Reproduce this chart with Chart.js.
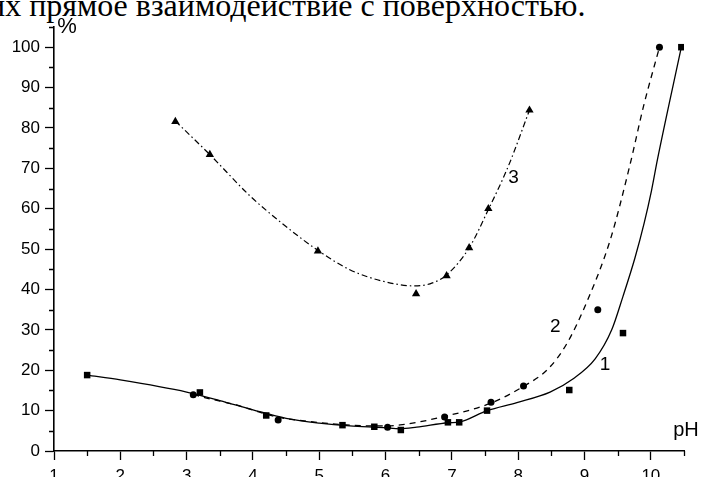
<!DOCTYPE html>
<html>
<head>
<meta charset="utf-8">
<script src="https://cdn.jsdelivr.net/npm/chart.js@4/dist/chart.umd.min.js"></script>
<style>
  html, body { margin: 0; padding: 0; background: #fff; }
  body { width: 702px; height: 477px; position: relative; overflow: hidden; }
  #caption {
    position: absolute; left: -12px; top: -11px;
    font-family: "Liberation Serif", "Times New Roman", serif;
    font-size: 32px; line-height: 32px; color: #000; white-space: nowrap;
  }
  #chart { position: absolute; left: 0; top: 0; }
</style>
</head>
<body>
<div id="caption">их прямое взаимодействие с поверхностью.</div>
<canvas id="chart" width="702" height="477"></canvas>
<script>
// Measured points (pH, %)
const sq1X = [1.5, 3.2, 4.2, 5.35, 5.83, 6.23, 6.94, 7.11, 7.53, 8.77, 9.58, 10.46];
const sq1Y = [18.8, 14.5, 8.8, 6.4, 6.0, 5.2, 7.1, 7.1, 10.0, 15.1, 29.2, 100];
const ci2X = [3.1, 4.38, 6.03, 6.89, 7.59, 8.08, 9.2, 10.13];
const ci2Y = [13.9, 7.7, 5.9, 8.4, 12.1, 16.1, 35.0, 100];
const tri3X = [2.83, 3.35, 4.98, 6.46, 6.92, 7.26, 7.55, 8.17];
const tri3Y = [81.6, 73.4, 49.5, 38.9, 43.4, 50.3, 60.0, 84.4];

// Smoothed trend curves
const fit1X = [1.5, 2.0, 3.0, 3.5, 4.0, 4.5, 5.0, 5.46, 5.97, 6.22, 6.47, 6.95, 7.12, 7.53, 7.98, 8.48, 8.83, 9.16, 9.41, 9.58, 9.76, 9.90, 10.01, 10.10, 10.46];
const fit1Y = [18.8, 17.6, 14.6, 12.5, 10.2, 8.1, 6.9, 6.2, 5.8, 5.5, 5.9, 7.0, 7.2, 10.0, 12.0, 14.6, 17.9, 22.8, 30.0, 38.3, 47.8, 56.5, 64.5, 72.2, 100];
const fit2X = [3.1, 3.3, 3.75, 4.1, 4.4, 4.7, 5.3, 5.85, 6.22, 6.87, 7.58, 8.08, 8.45, 8.73, 9.05, 9.39, 9.68, 9.89, 10.13];
const fit2Y = [14.0, 13.1, 11.4, 9.6, 8.3, 7.6, 6.6, 6.2, 6.45, 8.5, 11.8, 16.0, 20.3, 26.5, 37.5, 52.4, 70.5, 85.4, 100];
const fit3X = [2.83, 3.35, 3.96, 4.46, 4.96, 5.46, 5.97, 6.42, 6.67, 6.92, 7.26, 7.55, 7.85, 8.17];
const fit3Y = [81.7, 73.4, 63.1, 56.1, 49.9, 44.9, 42.0, 40.9, 41.4, 43.6, 50.3, 59.8, 70.5, 84.4];

// Axis ticks
const xTicks = [1, 2, 3, 4, 5, 6, 7, 8, 9, 10];
const xMinorTicks = [1.5, 2.5, 3.5, 4.5, 5.5, 6.5, 7.5, 8.5, 9.5, 10.5];
const yTicks = [0, 10, 20, 30, 40, 50, 60, 70, 80, 90, 100];
const yMinorTicks = [5, 15, 25, 35, 45, 55, 65, 75, 85, 95, 105];

// Curve labels: [text, pH, %]
const curveLabels = [["1", 9.31, 21.3], ["2", 8.56, 30.8], ["3", 7.93, 67.7]];

const pts = (xs, ys) => xs.map((x, i) => ({ x: x, y: ys[i] }));

const SANS = '"Liberation Sans", Arial, sans-serif';

const annotations = {
  id: 'annotations',
  afterDraw(chart) {
    const ctx = chart.ctx;
    const xs = chart.scales.x, ys = chart.scales.y;
    const area = chart.chartArea;
    ctx.save();
    ctx.strokeStyle = '#000';
    ctx.lineWidth = 1.3;
    ctx.beginPath();
    xMinorTicks.forEach(v => {
      const px = Math.round(xs.getPixelForValue(v)) + 0.5;
      ctx.moveTo(px, area.bottom);
      ctx.lineTo(px, area.bottom + 5);
    });
    yMinorTicks.forEach(v => {
      const py = Math.round(ys.getPixelForValue(v)) + 0.5;
      ctx.moveTo(area.left, py);
      ctx.lineTo(area.left - 5, py);
    });
    ctx.stroke();

    ctx.fillStyle = '#000';
    ctx.textAlign = 'center';
    ctx.textBaseline = 'middle';
    ctx.font = '19px ' + SANS;
    curveLabels.forEach(([t, x, y]) => {
      ctx.fillText(t, xs.getPixelForValue(x), ys.getPixelForValue(y));
    });
    ctx.font = '22px ' + SANS;
    ctx.fillText('%', area.left + 13, area.top);
    ctx.font = '20px ' + SANS;
    ctx.fillText('pH', area.right + 2, area.bottom - 21);
    ctx.restore();
  }
};

const axisCommon = {
  grid: { display: true, drawOnChartArea: false, drawTicks: true, tickLength: 9, tickColor: '#000', tickWidth: 1.3 },
  border: { display: true, color: '#000', width: 1.6 },
  ticks: { color: '#000', font: { family: SANS, size: 17 } }
};

new Chart(document.getElementById('chart'), {
  type: 'scatter',
  data: {
    datasets: [
      { data: pts(fit1X, fit1Y), showLine: true, pointRadius: 0, borderColor: '#000', borderWidth: 1.3, cubicInterpolationMode: 'monotone' },
      { data: pts(fit2X, fit2Y), showLine: true, pointRadius: 0, borderColor: '#000', borderWidth: 1.3, borderDash: [6, 5], cubicInterpolationMode: 'monotone' },
      { data: pts(fit3X, fit3Y), showLine: true, pointRadius: 0, borderColor: '#000', borderWidth: 1.2, borderDash: [6, 3, 1.5, 3], cubicInterpolationMode: 'monotone' },
      { data: pts(sq1X, sq1Y), pointStyle: 'rect', pointRadius: 4.6, backgroundColor: '#000', borderColor: '#000', borderWidth: 0 },
      { data: pts(ci2X, ci2Y), pointStyle: 'circle', pointRadius: 3.5, backgroundColor: '#000', borderColor: '#000', borderWidth: 0 },
      { data: pts(tri3X, tri3Y), pointStyle: 'triangle', pointRadius: 4.8, backgroundColor: '#000', borderColor: '#000', borderWidth: 0 }
    ]
  },
  options: {
    responsive: false,
    animation: false,
    devicePixelRatio: 1,
    layout: { padding: { left: 0, top: 27, right: 18, bottom: 0 } },
    plugins: { legend: { display: false }, tooltip: { enabled: false }, title: { display: false } },
    scales: {
      x: Object.assign({}, axisCommon, {
        type: 'linear', min: 1, max: 10.5,
        afterBuildTicks: s => { s.ticks = xTicks.map(v => ({ value: v })); },
        afterFit: s => { s.height = 26; },
        ticks: Object.assign({}, axisCommon.ticks, { padding: 6, maxRotation: 0, autoSkip: false })
      }),
      y: Object.assign({}, axisCommon, {
        type: 'linear', min: 0, max: 105,
        afterBuildTicks: s => { s.ticks = yTicks.map(v => ({ value: v })); },
        afterFit: s => { s.width = 54; },
        ticks: Object.assign({}, axisCommon.ticks, { padding: 5, autoSkip: false })
      })
    }
  },
  plugins: [annotations]
});
</script>
</body>
</html>
